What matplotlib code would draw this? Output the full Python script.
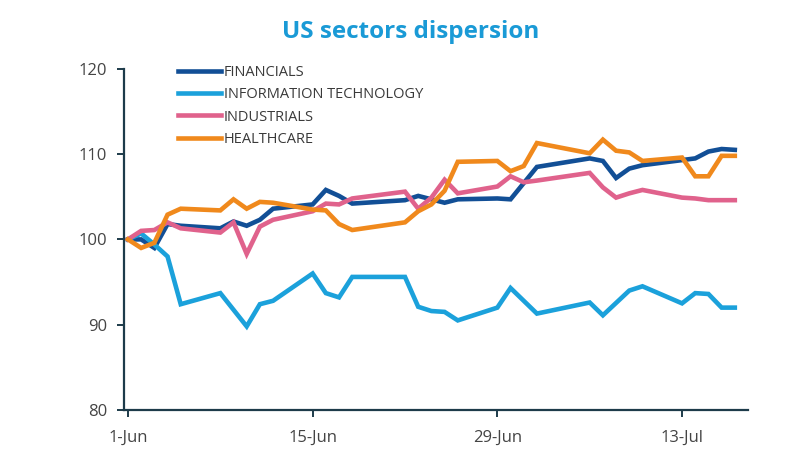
import numpy as np
import pandas as pd
import matplotlib; matplotlib.use("Agg")
import matplotlib.pyplot as plt

plt.rcParams['font.family'] = ['Open Sans', 'DejaVu Sans']

# vertices of each series (day offset from 1-Jun-2020, index value)
fin_days = [0, 1, 2, 3, 4, 7, 8, 9, 10, 11, 14, 15, 16, 17, 21, 22, 23, 24, 25, 28, 29, 31, 35, 36, 37, 38, 39, 43, 44, 45, 46]
fin_vals = [100, 100.0, 99.0, 101.8, 101.6, 101.3, 102.1, 101.6, 102.3, 103.6, 104.1, 105.8, 105.1, 104.2, 104.6, 105.1, 104.7, 104.3, 104.7, 104.8, 104.7, 108.5, 109.5, 109.2, 107.2, 108.3, 108.7, 109.5, 110.3, 110.6, 110.5]

it_days = [0, 1, 2, 3, 4, 7, 9, 10, 11, 14, 15, 16, 17, 21, 22, 23, 24, 25, 28, 29, 31, 35, 36, 38, 39, 42, 43, 44, 45, 46]
it_vals = [100, 100.7, 99.4, 98.0, 92.4, 93.7, 89.8, 92.4, 92.8, 96.0, 93.7, 93.2, 95.6, 95.6, 92.1, 91.6, 91.5, 90.5, 92.0, 94.3, 91.3, 92.6, 91.1, 94.0, 94.5, 92.5, 93.7, 93.6, 92.0, 92.0]

ind_days = [0, 1, 2, 3, 4, 7, 8, 9, 10, 11, 14, 15, 16, 17, 21, 22, 23, 24, 25, 28, 29, 30, 31, 35, 36, 37, 38, 39, 42, 43, 44, 46]
ind_vals = [100, 101.0, 101.1, 102.0, 101.3, 100.8, 102.0, 98.3, 101.5, 102.3, 103.3, 104.2, 104.1, 104.8, 105.6, 103.6, 104.9, 107.0, 105.4, 106.2, 107.4, 106.7, 106.9, 107.8, 106.1, 104.9, 105.4, 105.8, 104.9, 104.8, 104.6, 104.6]

hc_days = [0, 1, 2, 3, 4, 7, 8, 9, 10, 11, 14, 15, 16, 17, 21, 22, 23, 24, 25, 28, 29, 30, 31, 35, 36, 37, 38, 39, 42, 43, 44, 45, 46]
hc_vals = [100, 99.0, 99.6, 102.9, 103.6, 103.4, 104.7, 103.6, 104.4, 104.3, 103.5, 103.4, 101.8, 101.1, 102.0, 103.3, 104.1, 105.7, 109.1, 109.2, 108.0, 108.6, 111.3, 110.1, 111.7, 110.4, 110.2, 109.2, 109.6, 107.4, 107.4, 109.8, 109.8]

names = ['FINANCIALS', 'INFORMATION TECHNOLOGY', 'INDUSTRIALS', 'HEALTHCARE']
colors = ['#124f96', '#1ba1db', '#e0628c', '#f0891c']
tick_labels = ['1-Jun', '15-Jun', '29-Jun', '13-Jul']

start = pd.Timestamp('2020-06-01')
def to_dates(days):
    return [start + pd.Timedelta(days=d) for d in days]

fig = plt.figure(figsize=(8, 4.5), dpi=100)
ax = fig.add_axes([0.155, 0.089, 0.78, 0.758])

series = [(fin_days, fin_vals), (it_days, it_vals), (ind_days, ind_vals), (hc_days, hc_vals)]
for (d, v), n, c in zip(series, names, colors):
    ax.plot(to_dates(d), v, color=c, lw=3.3, label=n, solid_joinstyle='miter')

ax.set_ylim(80, 120)
ax.set_yticks([80, 90, 100, 110, 120])
ax.set_xlim(start - pd.Timedelta(days=0.3), start + pd.Timedelta(days=47))
ticks = [start + pd.Timedelta(days=14 * i) for i in range(4)]
ax.set_xticks(ticks)
ax.set_xticklabels(tick_labels)

for s in ('top', 'right'):
    ax.spines[s].set_visible(False)
for s in ('left', 'bottom'):
    ax.spines[s].set_color('#1d3b4a')
    ax.spines[s].set_linewidth(1.6)
ax.tick_params(axis='both', colors='#1d3b4a', width=1.4, length=5, labelsize=12,
               labelcolor='#444444')
ax.tick_params(axis='y', pad=7)
ax.tick_params(axis='x', pad=9)

leg = ax.legend(loc='upper left', bbox_to_anchor=(0.065, 1.05), frameon=False,
                fontsize=10.5, handlelength=3.0, handletextpad=0.15, labelspacing=0.5)
for t in leg.get_texts():
    t.set_color('#3a3a3a')

fig.text(0.513, 0.93, 'US sectors dispersion', ha='center', va='center',
         fontsize=17.5, fontweight='bold', color='#1a9ad6')

fig.savefig('out.png', dpi=100)
